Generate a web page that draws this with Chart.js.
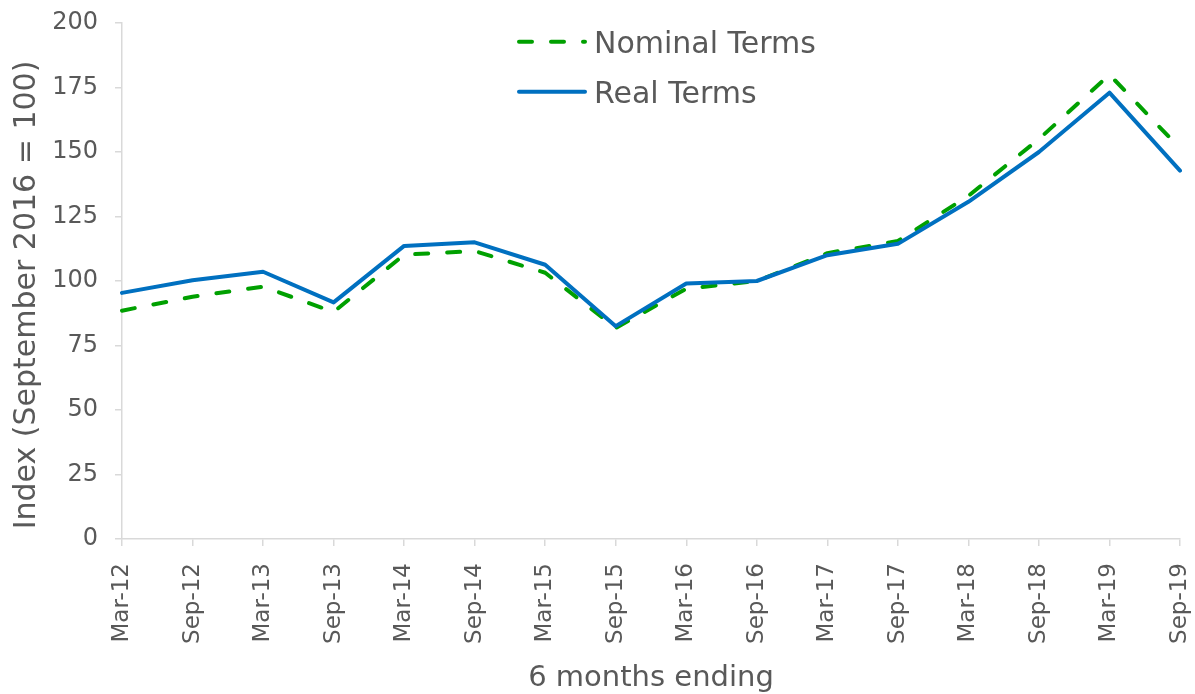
<!DOCTYPE html>
<html>
<head>
<meta charset="utf-8">
<script src="https://cdn.jsdelivr.net/npm/chart.js@4"></script>
<style>
  html, body { margin: 0; padding: 0; background: #ffffff; }
  #wrap { width: 1195px; height: 694px; position: relative; }
</style>
</head>
<body>
<div id="wrap"><canvas id="c" width="1195" height="694"></canvas></div>
<script>
const categories = ['Mar-12','Sep-12','Mar-13','Sep-13','Mar-14','Sep-14','Mar-15','Sep-15','Mar-16','Sep-16','Mar-17','Sep-17','Mar-18','Sep-18','Mar-19','Sep-19'];
const nominalTerms = [88.5, 93.9, 97.8, 88.0, 110.2, 111.6, 103.2, 81.8, 97.0, 100.0, 110.8, 115.5, 133.0, 155.0, 180.0, 151.4];
const realTerms = [95.4, 100.3, 103.6, 91.7, 113.6, 115.0, 106.3, 82.5, 99.0, 100.0, 110.0, 114.4, 130.7, 150.0, 173.0, 142.8];
const yTicks = [0, 25, 50, 75, 100, 125, 150, 175, 200];
const seriesNames = ['Nominal Terms', 'Real Terms'];
const yTitle = 'Index (September 2016 = 100)';
const xTitle = '6 months ending';

const TEXT = '#595959';
const AXIS = '#d9d9d9';
const GREEN = '#00a000';
const BLUE = '#0070c0';
const FONT = "'DejaVu Sans', Verdana, sans-serif";

const legendPlugin = {
  id: 'customLegend',
  afterDraw(chart) {
    const ctx = chart.ctx;
    const items = [
      { text: seriesNames[0], color: GREEN, dash: [13, 19], y: 41.7 },
      { text: seriesNames[1], color: BLUE, dash: [], y: 91.7 }
    ];
    ctx.save();
    items.forEach(it => {
      ctx.beginPath();
      ctx.strokeStyle = it.color;
      ctx.lineWidth = 4;
      ctx.lineCap = 'round';
      ctx.setLineDash(it.dash);
      ctx.moveTo(519, it.y);
      ctx.lineTo(585, it.y);
      ctx.stroke();
      ctx.setLineDash([]);
      ctx.fillStyle = TEXT;
      ctx.font = "30px " + FONT;
      ctx.textBaseline = 'alphabetic';
      ctx.textAlign = 'left';
      ctx.fillText(it.text, 594, it.y + 11);
    });
    // y-axis title
    ctx.translate(27, 295);
    ctx.rotate(-Math.PI / 2);
    ctx.fillStyle = TEXT;
    ctx.font = "30px " + FONT;
    ctx.textAlign = 'center';
    ctx.textBaseline = 'middle';
    ctx.fillText(yTitle, 0, 0);
    ctx.restore();
  }
};

new Chart(document.getElementById('c'), {
  type: 'line',
  data: {
    labels: categories,
    datasets: [
      {
        label: seriesNames[0],
        data: nominalTerms,
        borderColor: GREEN,
        backgroundColor: GREEN,
        borderWidth: 4,
        borderDash: [13, 19],
        borderCapStyle: 'round',
        borderJoinStyle: 'round',
        pointRadius: 0,
        tension: 0,
        order: 2
      },
      {
        label: seriesNames[1],
        data: realTerms,
        borderColor: BLUE,
        backgroundColor: BLUE,
        borderWidth: 4,
        borderCapStyle: 'round',
        borderJoinStyle: 'round',
        pointRadius: 0,
        tension: 0,
        order: 1
      }
    ]
  },
  options: {
    responsive: false,
    animation: false,
    devicePixelRatio: 1,
    layout: { padding: { top: 23, right: 15, left: 0, bottom: 0 } },
    plugins: {
      legend: { display: false },
      tooltip: { enabled: false }
    },
    scales: {
      x: {
        offset: false,
        grid: { drawOnChartArea: false, drawTicks: true, tickLength: 7, color: AXIS, lineWidth: 1.5 },
        border: { color: AXIS, width: 1.5 },
        ticks: {
          color: TEXT,
          font: { family: FONT, size: 23 },
          maxRotation: 90,
          minRotation: 90,
          autoSkip: false,
          padding: 17
        },
        title: {
          display: true,
          text: xTitle,
          color: TEXT,
          font: { family: FONT, size: 29, lineHeight: 1 },
          padding: { top: 0, bottom: 1 }
        },
        afterFit(scale) {
          scale.height = 155;
          scale.paddingLeft = 0;
          scale.paddingRight = 0;
        }
      },
      y: {
        min: 0,
        max: 200,
        afterBuildTicks(scale) { scale.ticks = yTicks.map(v => ({ value: v })); },
        grid: { drawOnChartArea: false, drawTicks: true, tickLength: 7, color: AXIS, lineWidth: 1.5 },
        border: { color: AXIS, width: 1.5 },
        ticks: {
          color: TEXT,
          font: { family: FONT, size: 24 },
          padding: 17
        },
        afterFit(scale) {
          scale.width = 122;
          scale.paddingTop = 0;
          scale.paddingBottom = 0;
        }
      }
    }
  },
  plugins: [legendPlugin]
});
</script>
</body>
</html>
